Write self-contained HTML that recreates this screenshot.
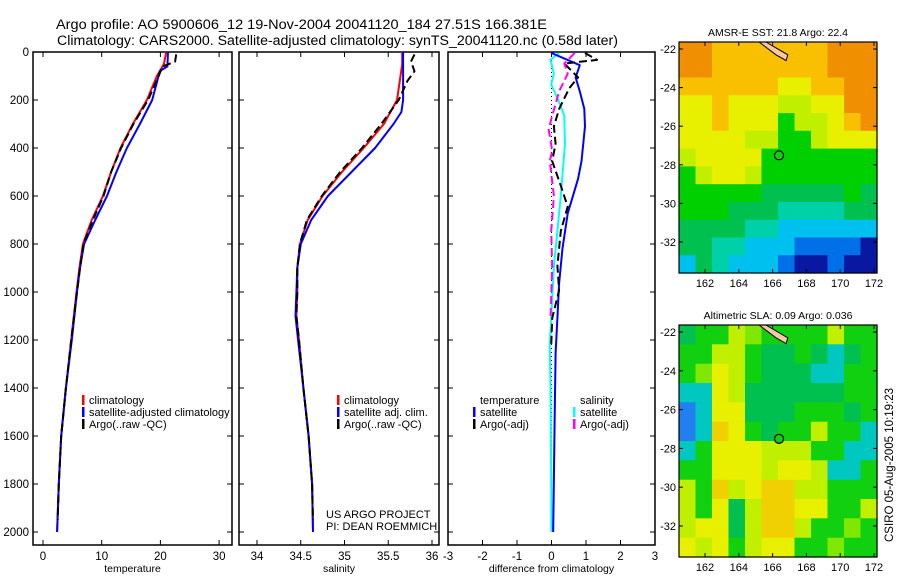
<!DOCTYPE html>
<html><head><meta charset="utf-8"><style>
html,body{margin:0;padding:0;background:#fff;}
svg{display:block;font-family:"Liberation Sans",sans-serif;}
</style></head><body>
<svg id="fig" width="900" height="580" viewBox="0 0 900 580" xmlns="http://www.w3.org/2000/svg">
<rect width="900" height="580" fill="#fff"/>
<text x="56" y="29" font-size="13.5" textLength="491" lengthAdjust="spacingAndGlyphs">Argo profile: AO 5900606_12 19-Nov-2004 20041120_184 27.51S 166.381E</text>
<text x="57" y="45" font-size="13.5" textLength="561" lengthAdjust="spacingAndGlyphs">Climatology: CARS2000. Satellite-adjusted climatology: synTS_20041120.nc (0.58d later)</text>
<g id="plots"></g>
<text transform="translate(893,465) rotate(-90)" font-size="11.5" text-anchor="middle">CSIRO 05-Aug-2005 10:19:23</text>
</svg>
<script>
// ---------- data ----------
const tDepth = [0,50,100,200,300,400,500,600,700,800,900,1000,1200,1400,1600,1800,2000];
const tClim  = [21.0,20.6,19.4,17.7,15.3,13.2,11.6,10.2,8.3,6.8,6.2,5.7,4.8,3.9,3.1,2.7,2.4];
const satDepth = [0,60,80,200,300,400,500,600,700,800,900,1000,1200,1400,1600,1800,2000];
const tSat   = [21.3,21.2,19.9,18.6,16.5,14.3,12.5,10.9,8.9,7.0,6.3,5.8,4.9,3.9,3.1,2.7,2.4];
const argoDepth = [10,40,60,100,200,300,400,500,600,700,800,900,1000,1200,1400,1600,1800,1950];
const tArgo  = [22.7,22.5,20.4,19.7,17.9,15.4,13.3,11.6,10.3,8.5,6.9,6.3,5.8,4.8,3.9,3.1,2.7,2.5];

const sDepth = [0,50,100,200,300,400,500,600,700,800,900,1000,1100,1200,1400,1600,1800,2000];
const sClim  = [35.66,35.66,35.64,35.60,35.45,35.22,34.97,34.75,34.58,34.49,34.46,34.46,34.45,34.48,34.53,34.59,34.63,34.64];
const sSatDepth = [0,100,200,250,300,400,500,600,700,800,900,1000,1100,1200,1400,1600,1800,2000];
const sSat   = [35.67,35.67,35.67,35.65,35.56,35.35,35.08,34.81,34.62,34.50,34.46,34.45,34.44,34.47,34.53,34.59,34.63,34.64];
const sArgoDepth = [10,40,80,120,200,300,400,500,600,700,800,900,1000,1100,1200,1400,1600,1800,1950];
const sArgo  = [35.80,35.76,35.80,35.72,35.62,35.42,35.20,34.95,34.74,34.57,34.49,34.46,34.46,34.45,34.48,34.53,34.59,34.63,34.64];

const dTSatDepth = [4,55,106,164,237,310,455,528,673,818,964,1109,1254,1545,2000];
const dTSat  = [0.0,0.82,0.70,0.82,0.95,0.97,0.87,0.77,0.47,0.32,0.22,0.17,0.12,0.09,0.05];
const dSSatDepth = [4,33,91,135,208,266,382,600,746,891,1109,1225,1400,1763,2000];
const dSSat  = [0.22,-0.03,0.07,-0.01,0.22,0.37,0.39,0.27,0.17,0.07,-0.01,-0.05,-0.03,-0.01,0.0];
const dTArgoDepth = [4,33,48,106,150,237,310,382,455,557,644,746,891,993,1109,1225];
const dTArgo = [0.97,1.32,0.37,0.77,0.52,0.22,0.07,0.12,0.02,0.27,0.47,0.27,0.17,0.22,0.02,-0.01];
const dSArgoDepth = [4,19,48,91,164,281,324,411,455,600,746,891,1109];
const dSArgo = [0.67,0.57,0.37,0.47,0.22,-0.01,-0.08,0.02,-0.05,0.07,-0.01,0.02,-0.03];

const depthTicks = [0,200,400,600,800,1000,1200,1400,1600,1800,2000];
const tTicks = [0,10,20,30];
const sTicks = [34,34.5,35,35.5,36];
const sTickLabels = ["34","34.5","35","35.5","36"];
const dTicks = [-3,-2,-1,0,1,2,3];
const lonTicks = [162,164,166,168,170,172];
const latTicks = [-22,-24,-26,-28,-30,-32];

// ---------- helpers ----------
const NS = "http://www.w3.org/2000/svg";
const root = document.getElementById('plots');
function mk(tag, attrs, parent){const e=document.createElementNS(NS,tag);for(const k in attrs)e.setAttribute(k,attrs[k]);(parent||root).appendChild(e);return e;}
function txt(x,y,s,size,anchor,parent){const e=mk('text',{x:x,y:y,'font-size':size,'text-anchor':anchor||'start'},parent);e.textContent=s;return e;}
const yD = d => 52 + 0.24*d;
const PT = 52, PB = 545;

const panels = [
 {x0:33,x1:232, sx:v=>43+5.87*v, ticks:tTicks, labels:tTicks.map(String), name:'temperature-panel', xlabel:'temperature'},
 {x0:239,x1:439, sx:v=>257+87.5*(v-34), ticks:sTicks, labels:sTickLabels, name:'salinity-panel', xlabel:'salinity'},
 {x0:448,x1:655, sx:v=>551.5+34.5*v, ticks:dTicks, labels:dTicks.map(String), name:'difference-panel', xlabel:'difference from climatology'}
];

panels.forEach((p,i)=>{
  const g = mk('g',{});
  
  
  const fr = mk('rect',{x:p.x0,y:PT,width:p.x1-p.x0,height:PB-PT,fill:'none',stroke:'#000','stroke-width':1.5},g);
  
  
  depthTicks.forEach(d=>{
    const y=yD(d);
    mk('line',{x1:p.x0,x2:p.x0+5,y1:y,y2:y,stroke:'#000','stroke-width':1},g);
    mk('line',{x1:p.x1-5,x2:p.x1,y1:y,y2:y,stroke:'#000','stroke-width':1},g);
    if(i===0){
      const t=txt(29,y+4,String(d),11.5,'end',g);
      
      
    }
  });
  p.ticks.forEach((v,k)=>{
    const x=p.sx(v);
    mk('line',{x1:x,x2:x,y1:PT,y2:PT+5,stroke:'#000','stroke-width':1},g);
    mk('line',{x1:x,x2:x,y1:PB-5,y2:PB,stroke:'#000','stroke-width':1},g);
    const t=txt(x,PB+15,p.labels[k],11.5,'middle',g);
    
    
  });
  const xl=txt((p.x0+p.x1)/2,PB+27,p.xlabel,10.5,'middle',g);
  
  
});

function line(sx, depths, vals, color, w, dash, name){
  const pts = depths.map((d,k)=>sx(vals[k]).toFixed(1)+','+yD(d).toFixed(1)).join(' ');
  const a={points:pts,fill:'none',stroke:color,'stroke-width':w,'stroke-linejoin':'round'};
  if(dash)a['stroke-dasharray']=dash;
  const e=mk('polyline',a);
  
  
  return e;
}
const P=panels;
line(P[0].sx,tDepth,tClim,'#f00',2,null,'temp-climatology-line');
line(P[0].sx,satDepth,tSat,'#00f',2,null,'temp-satellite-line');
line(P[0].sx,argoDepth,tArgo,'#000',2,'8,4','temp-argo-line');
line(P[1].sx,sDepth,sClim,'#f00',2,null,'sal-climatology-line');
line(P[1].sx,sSatDepth,sSat,'#00f',2,null,'sal-satellite-line');
line(P[1].sx,sArgoDepth,sArgo,'#000',2,'8,4','sal-argo-line');
const z=mk('line',{x1:P[2].sx(0),x2:P[2].sx(0),y1:PT,y2:yD(2000),stroke:'#000','stroke-width':1,'stroke-dasharray':'1,3'});


line(P[2].sx,dSSatDepth,dSSat,'#0ff',2,null,'sal-satellite-diff-line');
line(P[2].sx,dTSatDepth,dTSat,'#00f',2,null,'temp-satellite-diff-line');
line(P[2].sx,dTArgoDepth,dTArgo,'#000',2,'8,4','temp-argo-diff-line');
line(P[2].sx,dSArgoDepth,dSArgo,'#f0f',2,'8,4','sal-argo-diff-line');

function legend(x,y,items,name){
  const g=mk('g',{});
  
  
  items.forEach((it,k)=>{
    const yy=y+k*12;
    if(it[1]) mk('rect',{x:x,y:yy-9,width:2.5,height:10,fill:it[1]},g);
    txt(x+7,yy,it[0],11,'start',g);
  });
}
legend(82,404,[['climatology','#f00'],['satellite-adjusted climatology','#00f'],['Argo(..raw -QC)','#000']],'temperature-legend');
legend(337,404,[['climatology','#f00'],['satellite adj. clim.','#00f'],['Argo(..raw -QC)','#000']],'salinity-legend');
legend(473,404,[['temperature',null],['satellite','#00f'],['Argo(-adj)','#000']],'diff-temperature-legend');
legend(573,404,[['salinity',null],['satellite','#0ff'],['Argo(-adj)','#f0f']],'diff-salinity-legend');
const c1=txt(326,518,'US ARGO PROJECT',11,'start');


const c2=txt(326,530,'PI: DEAN ROEMMICH',11,'start');



// ---------- maps ----------
const sstGrid = [
 "OOoooooooOOO",
 "OOoooooooOOO",
 "ooooooYYooOO",
 "YYoYYYyyYYOO",
 "YYoYYYGyyYoO",
 "YYYYyyGGyYYY",
 "yYYYYGGGGGGG",
 "GyYYyGGGGGGG",
 "GGGGGgggggGg",
 "GGGgggTTTTgg",
 "ggggTTCCCCCC",
 "ggTTCCCBBBBD",
 "CgTCCCBDDBDD"];
const slaGrid = [
 "gGGylGGGGyGG",
 "GGyyGggGgCgG",
 "GlYyGgggCCGG",
 "CCYyggggggGG",
 "BCYYgggGGGgG",
 "BCoYGgGGyGGC",
 "CGYYYyyyGGCC",
 "GGYYYyYYyCCG",
 "yGoyYooyyGGG",
 "yGYgyooYYGGy",
 "yYYgyooyGGlG",
 "YyYGyYYGGlGG"];
const sstCol = {O:'#f09000',o:'#f8c000',Y:'#e8f000',y:'#c0f000',G:'#00d000',g:'#00c050',T:'#00d0a8',C:'#00c0f0',B:'#0070e8',D:'#0818a0'};
const slaCol = {G:'#10d010',g:'#00c050',l:'#80e800',Y:'#e8f000',y:'#c0f000',o:'#f0d000',C:'#00c8c0',B:'#2080f0'};

function map(top, bottom, grid, cols, title, name){
  const L=679,R=877;
  const g=mk('g',{});
  
  
  const nr=grid.length, nc=grid[0].length;
  const cw=(R-L)/nc, ch=(bottom-top)/nr;
  grid.forEach((row,r)=>{for(let c=0;c<nc;c++){
    mk('rect',{x:(L+c*cw).toFixed(1),y:(top+r*ch).toFixed(1),width:(cw+0.6).toFixed(1),height:(ch+0.6).toFixed(1),fill:cols[row[c]]},g);
  }});
  const lonX = lon => 705 + (lon-162)*16.9;
  const latY = lat => (top+7) + (-22-lat)*(bottom-top-38)/10;
  mk('polygon',{points:`${lonX(165.2)},${top} ${lonX(165.6)},${top} ${lonX(166.9)},${latY(-22.3)} ${lonX(166.8)},${latY(-22.6)} ${lonX(166.2)},${latY(-22.3)}`,fill:'#f8c8a0',stroke:'#000','stroke-width':1},g);
  const m=mk('circle',{cx:lonX(166.38),cy:latY(-27.51),r:4.5,fill:'#10d010',stroke:'#000','stroke-width':1.2},g);
  
  
  mk('rect',{x:L,y:top,width:R-L,height:bottom-top,fill:'none',stroke:'#000','stroke-width':1.2},g);
  lonTicks.forEach(v=>{const x=lonX(v);
    mk('line',{x1:x,x2:x,y1:top,y2:top+4,stroke:'#000'},g);
    mk('line',{x1:x,x2:x,y1:bottom-4,y2:bottom,stroke:'#000'},g);
    txt(x,bottom+14,String(v),11,'middle',g);});
  latTicks.forEach(v=>{const y=latY(v);
    mk('line',{x1:L,x2:L+4,y1:y,y2:y,stroke:'#000'},g);
    mk('line',{x1:R-4,x2:R,y1:y,y2:y,stroke:'#000'},g);
    txt(L-3,y+4,String(v),11,'end',g);});
  txt((L+R)/2,top-6,title,10.5,'middle',g);
}
map(42,273,sstGrid,sstCol,'AMSR-E SST: 21.8 Argo: 22.4','sst-map');
map(325,557,slaGrid,slaCol,'Altimetric SLA: 0.09 Argo: 0.036','sla-map');
</script>
</body></html>
